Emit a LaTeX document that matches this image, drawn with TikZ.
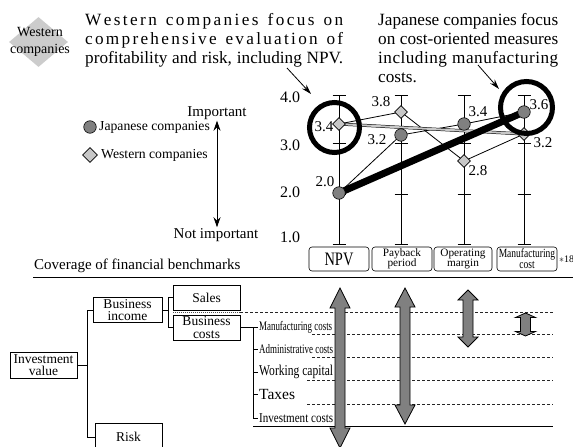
\documentclass[tikz,border=0pt]{standalone}
\usepackage{graphicx}
\usepackage{fontspec}
\setmainfont{Liberation Serif}
\newfontfamily\condfont[FakeStretch=0.76]{Liberation Serif}
\usetikzlibrary{arrows.meta,shapes.geometric}
\definecolor{markdark}{gray}{0.5}
\definecolor{marklight}{gray}{0.78}
\definecolor{arrowgray}{gray}{0.5}
\definecolor{tagfill}{gray}{0.8}
% letter-spaced text: a stretchable gap after every token
\makeatletter
\def\lsp#1{\lsp@#1\relax}
\def\lsp@#1{\ifx#1\relax\else#1\hfil\expandafter\lsp@\fi}
\makeatother
% squeeze a text to a given width, keeping its height
\newcommand\fitw[2]{\resizebox{#1}{\height}{#2}}
% vertical double-headed block arrow: x, top, bottom, head length
\newcommand\gdarrow[4]{%
  \draw[bigarrow] (#1,#2) -- ++(10,#4) -- ++(-5,0) -- (#1+5,#3-#4) -- ++(5,0)
    -- (#1,#3) -- ++(-10,-#4) -- ++(5,0) -- (#1-5,#2+#4) -- ++(-5,0) -- cycle;}
\begin{document}
\begin{tikzpicture}[x=1pt,y=-1pt,
  ax/.style={line width=0.6pt},
  vlab/.style={inner sep=0pt, font=\fontsize{15}{15}\selectfont},
  jmark/.style={circle, draw, line width=0.6pt, fill=markdark, minimum size=12.5pt, inner sep=0pt},
  wmark/.style={diamond, draw, line width=0.6pt, fill=marklight, minimum width=13pt, minimum height=13pt, inner sep=0pt},
  thinl/.style={line width=0.8pt},
  band/.style={draw=black, line width=0.5pt, double=marklight, double distance=2pt},
  thickl/.style={line width=7pt},
  hl/.style={circle, draw, line width=5pt, inner sep=0pt},
  callout/.style={line width=0.8pt, -{Stealth[length=10pt,width=6pt]}},
  colbox/.style={draw, rounded corners=3pt, line width=0.6pt, minimum width=60pt, minimum height=24pt, inner sep=0pt, align=center},
  treebox/.style={draw, line width=0.8pt, inner sep=0pt, align=center, font=\fontsize{13.5}{12.5}\selectfont},
  tree/.style={line width=0.8pt},
  item/.style={anchor=west, inner sep=1pt},
  guide/.style={line width=0.7pt, dash pattern=on 3pt off 2pt, black!85},
  bigarrow/.style={draw, line width=0.8pt, fill=arrowgray, line join=miter}]
\useasboundingbox (0,0) rectangle (573,447);
\clip (0,0) rectangle (573,447);

% ---- header tag and the two statements
\node[diamond, fill=tagfill, minimum width=59pt, minimum height=50pt, inner sep=0pt] (tag) at (38.5,42) {};
\node[align=center, inner sep=0pt, font=\fontsize{14}{17}\selectfont] (tagtext) at (40,42) {Western\\companies};

\begin{scope}[font=\fontsize{17.2}{19}\selectfont]
\node[anchor=base west, inner sep=0pt] (ta1) at (85,25) {\hbox to 258pt{\lsp{Western~companies~focus~on}\unskip}};
\node[anchor=base west, inner sep=0pt] (ta2) at (85,44) {\hbox to 258pt{\lsp{comprehensive~evaluation~of}\unskip}};
\node[anchor=base west, inner sep=0pt] (ta3) at (85,63) {\makebox[258pt][s]{profitability and risk, including NPV.}};
\node[anchor=base west, inner sep=0pt] (tb1) at (378,25) {\makebox[180pt][s]{Japanese companies focus}};
\node[anchor=base west, inner sep=0pt] (tb2) at (378,44) {\makebox[180pt][s]{on cost-oriented measures}};
\node[anchor=base west, inner sep=0pt] (tb3) at (378,63) {\hbox to 180pt{\lsp{including~manufacturing}\unskip}};
\node[anchor=base west, inner sep=0pt] (tb4) at (378,82) {costs.};
\end{scope}

% ---- legend and importance scale
\node[jmark] (legj) at (90,127) {};
\node[anchor=west, inner sep=0pt, font=\fontsize{13.7}{14}\selectfont] (legjt) at (99,127) {Japanese companies};
\node[wmark, minimum width=15pt, minimum height=15pt] (legw) at (90,155) {};
\node[anchor=west, inner sep=0pt, font=\fontsize{13.7}{14}\selectfont] (legwt) at (101,155) {Western companies};

\node[inner sep=1pt, font=\fontsize{15}{15}\selectfont] (imp) at (217,113) {Important};
\node[inner sep=1pt, font=\fontsize{15}{15}\selectfont] (nimp) at (216,235) {Not important};
\draw[line width=0.8pt, {Stealth[length=10pt,width=7pt]}-{Stealth[length=10pt,width=7pt]}] (imp.south) -- (imp.south |- nimp.north);

% ---- rating axes
\foreach \cx in {339,401,464,524}{
  \draw[ax] (\cx,95) -- (\cx,244);
  \foreach \ty in {95,143,194,244} \draw[ax] (\cx-6.5,\ty) -- (\cx+6.5,\ty);
}
\node[vlab, font=\fontsize{16}{16}\selectfont] (y4) at (290,97) {4.0};
\node[vlab, font=\fontsize{16}{16}\selectfont] (y3) at (290,145) {3.0};
\node[vlab, font=\fontsize{16}{16}\selectfont] (y2) at (290,192) {2.0};
\node[vlab, font=\fontsize{16}{16}\selectfont] (y1) at (290,237) {1.0};

\node[colbox] (bnpv) at (339,259) {\condfont\fontsize{19}{19}\selectfont NPV};
\node[colbox, font=\fontsize{11.3}{10.5}\selectfont] (bpay) at (402,259) {Payback\\period};
\node[colbox, minimum width=58pt, font=\fontsize{11.3}{10.5}\selectfont] (bop) at (463,259) {Operating\\margin};
\node[colbox, font=\condfont\fontsize{12.5}{11}\selectfont] (bmfg) at (527,259) {Manufacturing\\cost};
\node[anchor=west, inner sep=0pt, font=\fontsize{10}{10}\selectfont] (note) at (559,259) {$\ast$18};

% ---- ratings
\coordinate (pJn) at (339,193);
\coordinate (pJp) at (401,135);
\coordinate (pJo) at (464,124);
\coordinate (pJm) at (524,112);
\coordinate (pWn) at (339,124);
\coordinate (pWp) at (401,112);
\coordinate (pWo) at (464,161);
\coordinate (pWm) at (524,134);
\draw[thinl] (pJn) -- (pJp) -- (pJo) -- (pJm);
\draw[thinl] (pWn) -- (pWp) -- (pWo) -- (pWm);
\draw[band] (pWn) -- (pWm);
\draw[thickl] (pJn) -- (pJm);
\node[jmark] (mJn) at (pJn) {};
\node[jmark] (mJp) at (pJp) {};
\node[jmark] (mJo) at (pJo) {};
\node[jmark] (mJm) at (pJm) {};
\node[wmark] (mWn) at (pWn) {};
\node[wmark] (mWp) at (pWp) {};
\node[wmark] (mWo) at (pWo) {};
\node[wmark] (mWm) at (pWm) {};

\node[vlab] (vWn) at (324,127) {3.4};
\node[vlab] (vWp) at (381,102) {3.8};
\node[vlab] (vJp) at (377,140) {3.2};
\node[vlab] (vJn) at (325,182) {2.0};
\node[vlab] (vJo) at (478,112) {3.4};
\node[vlab] (vJm) at (539,105) {3.6};
\node[vlab] (vWm) at (543,143) {3.2};
\node[vlab] (vWo) at (478,171) {2.8};

% ---- highlights and callouts
\node[hl, minimum size=50pt] (hl1) at (334.5,127.5) {};
\node[hl, minimum size=52pt] (hl2) at (526.5,107.5) {};
\coordinate (c1s) at (287,68);
\coordinate (c1e) at (311,94);
\draw[callout] (c1s) -- (c1e);
\coordinate (c2s) at (478,65);
\coordinate (c2e) at (499,89);
\draw[callout] (c2s) -- (c2e);

% ---- coverage of financial benchmarks
\node[anchor=west, inner sep=0pt, font=\fontsize{15}{15}\selectfont] (cov) at (34,266) {Coverage of financial benchmarks};
\coordinate (rl) at (33,277);
\coordinate (rr) at (573,277);
\draw[line width=0.8pt] (rl) -- (rr);

\node[treebox, minimum width=67pt, minimum height=26pt] (inv) at (43.5,365) {Investment\\value};
\node[treebox, minimum width=69pt, minimum height=25pt] (binc) at (127.5,310) {Business\\income};
\node[treebox, minimum width=67pt, minimum height=28pt] (risk) at (128.5,437) {Risk};
\node[treebox, minimum width=67pt, minimum height=25pt] (sales) at (206.5,297.5) {Sales};
\node[treebox, minimum width=67pt, minimum height=25pt] (bcost) at (206.5,327.5) {Business\\costs};

\coordinate (trunk) at (87,365);
\draw[tree] (inv.east) -- (trunk);
\draw[tree] (binc.west) -| (trunk);
\draw[tree] (risk.west) -| (trunk);
\coordinate (fork) at (168,310);
\draw[tree] (binc.east) -- (fork);
\draw[tree] (sales.west) -| (fork);
\draw[tree] (bcost.west) -| (fork);

\node[item, font=\fontsize{13}{13}\selectfont] (it1) at (258,327.5) {\fitw{73pt}{Manufacturing costs}};
\node[item, font=\fontsize{13}{13}\selectfont] (it2) at (258,349) {\fitw{74pt}{Administrative costs}};
\node[item, font=\fontsize{15}{15}\selectfont] (it3) at (258,372) {\fitw{74pt}{Working capital}};
\node[item, font=\fontsize{15.5}{15.5}\selectfont] (it4) at (258,394) {Taxes};
\node[item, font=\fontsize{13.5}{13.5}\selectfont] (it5) at (258,418) {\fitw{74pt}{Investment costs}};
\coordinate (spine) at (253,327.5);
\draw[tree] (bcost.east) -- (it1.west);
\draw[tree] (spine) |- (it5.west);
\foreach \n in {it2,it3,it4} \draw[tree] (spine |- \n.west) -- (\n.west);

% guide lines across the benchmark columns
\draw[line width=1.5pt, dash pattern=on 1pt off 1pt, black!70] (173,312.5) -- (240,312.5);
\draw[guide] (240,312.5) -- (553,312.5);
\foreach \gy/\gx in {334/312, 357/312, 380/307, 404/307} \draw[guide] (\gx,\gy) -- (553,\gy);
\draw[line width=0.8pt] (253,426) -- (553,426);

% coverage ranges
\gdarrow{340}{288}{448}{20}
\gdarrow{405}{288}{424}{19}
\gdarrow{468}{290}{347}{10}
\gdarrow{525.5}{313}{336}{4.5}
\end{tikzpicture}
\end{document}
